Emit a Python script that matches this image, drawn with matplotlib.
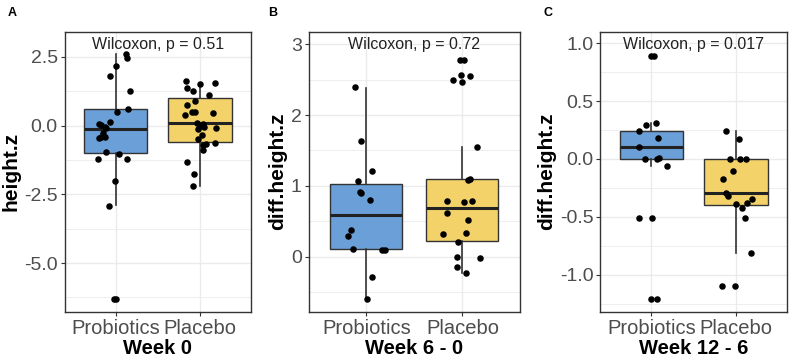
import numpy as np
import matplotlib
matplotlib.use("Agg")
import matplotlib.pyplot as plt
from matplotlib.ticker import MultipleLocator

plt.rcParams['font.family'] = ['Liberation Sans', 'DejaVu Sans']

groups = ['Probiotics', 'Placebo']
colors = ['#6A9FD8', '#F3D26A']

# Panel A: Week 0
a_prob = [2.61, 2.45, 2.17, 1.81, 1.27, 0.61, 0.49, 0.06, 0.03, -0.04, 0.15, -0.10,
          -0.28, -0.42, -0.40, -0.46, -0.95, -1.03, -1.22, -1.22, -2.02, -2.91, -6.32, -6.32]
a_prob_jit = [0.12, 0.14, 0.0, -0.06, 0.17, 0.15, 0.02, -0.20, -0.17, -0.13, -0.07, -0.11,
              -0.15, -0.17, -0.13, -0.19, -0.11, 0.04, -0.21, 0.13, -0.01, -0.08, -0.02, 0.01]
a_plac = [1.64, 1.36, 1.27, 1.52, 1.57, 1.12, 0.90, 0.75, 0.51, 0.51, 0.47, 0.39, 0.10,
          0.05, -0.05, -0.10, 0.0, -0.13, -0.34, -0.50, -0.65, -0.72, -0.88, -0.64,
          -1.31, -1.76, -2.20]
a_plac_jit = [-0.17, -0.16, -0.08, 0.0, 0.18, 0.11, -0.06, -0.16, -0.09, -0.06, 0.15, -0.18,
              -0.04, 0.03, 0.05, 0.19, 0.0, -0.02, 0.02, -0.03, 0.07, 0.03, 0.04, 0.18,
              -0.15, -0.07, -0.08]
# box stats: whisker low, q1, median, q3, whisker high
a_box = [[-2.89, -1.00, -0.12, 0.61, 2.61], [-2.20, -0.58, 0.11, 1.00, 1.54]]

# Panel B: Week 6 - 0
b_prob = [2.40, 1.64, 1.21, 1.07, 0.91, 0.90, 0.80, 0.38, 0.29, 0.11, 0.09, 0.09, -0.29, -0.60]
b_prob_jit = [-0.12, -0.06, 0.06, -0.09, -0.07, -0.06, 0.04, -0.16, -0.19, -0.14, 0.16, 0.19,
              0.06, 0.01]
b_plac = [2.78, 2.78, 2.49, 2.57, 2.56, 2.47, 1.55, 1.08, 1.10, 0.79, 0.77, 0.78, 0.61,
          0.51, 0.32, 0.33, 0.20, 0.0, -0.02, -0.15, -0.23]
b_plac_jit = [-0.02, 0.02, -0.10, -0.01, 0.08, 0.0, 0.15, 0.06, 0.08, -0.16, 0.02, 0.10,
              -0.16, 0.06, -0.20, 0.04, -0.05, -0.06, 0.18, -0.06, 0.04]
b_box = [[-0.60, 0.10, 0.59, 1.03, 2.39], [-0.23, 0.22, 0.68, 1.10, 1.55]]

# Panel C: Week 12 - 6
c_prob = [0.886, 0.886, 0.29, 0.31, 0.245, 0.18, 0.10, 0.0, 0.0, 0.01, -0.06,
          -0.51, -0.51, -1.21, -1.21]
c_prob_jit = [0.0, 0.03, -0.06, 0.06, -0.15, 0.08, -0.15, -0.08, 0.07, 0.09, 0.19,
              -0.15, 0.01, 0.0, 0.07]
c_plac = [0.24, 0.17, 0.0, 0.0, 0.0, -0.10, -0.17, -0.29, -0.32, -0.39, -0.42, -0.38,
          -0.35, -0.51, -0.81, -1.10, -1.10]
c_plac_jit = [-0.12, 0.04, -0.07, 0.05, 0.12, -0.04, -0.15, -0.12, -0.10, 0.0, 0.07, 0.13,
              0.19, 0.11, 0.18, -0.17, -0.01]
c_box = [[-0.06, 0.0, 0.10, 0.245, 0.31], [-0.81, -0.40, -0.29, 0.0, 0.24]]

panels = [
    dict(tag='A', prob=a_prob, pj=a_prob_jit, plac=a_plac, qj=a_plac_jit, box=a_box,
         ylabel='height.z', xlabel='Week 0', p='Wilcoxon, p = 0.51',
         ylim=(-6.77, 3.42), major=2.5, minor=1.25, fmt='{:.1f}'),
    dict(tag='B', prob=b_prob, pj=b_prob_jit, plac=b_plac, qj=b_plac_jit, box=b_box,
         ylabel='diff.height.z', xlabel='Week 6 - 0', p='Wilcoxon, p = 0.72',
         ylim=(-0.78, 3.18), major=1, minor=0.5, fmt='{:.0f}'),
    dict(tag='C', prob=c_prob, pj=c_prob_jit, plac=c_plac, qj=c_plac_jit, box=c_box,
         ylabel='diff.height.z', xlabel='Week 12 - 6', p='Wilcoxon, p = 0.017',
         ylim=(-1.32, 1.10), major=0.5, minor=0.25, fmt='{:.1f}'),
]

fig = plt.figure(figsize=(8.0, 3.61), dpi=100)
rects = [(0.081, 0.1366, 0.2325, 0.7756),
         (0.386, 0.1366, 0.264, 0.7756),
         (0.7506, 0.1366, 0.233, 0.7756)]
tag_x = [0.009, 0.335, 0.679]

for pan, rect, tx in zip(panels, rects, tag_x):
    ax = fig.add_axes(rect)
    stats = []
    for name, b in zip(groups, pan['box']):
        stats.append(dict(label=name, whislo=b[0], q1=b[1], med=b[2], q3=b[3], whishi=b[4]))
    bp = ax.bxp(stats, positions=[1, 2], widths=0.75, patch_artist=True,
                showfliers=False, showcaps=False,
                boxprops=dict(edgecolor='#333333', linewidth=1.0),
                whiskerprops=dict(color='#333333', linewidth=1.2),
                medianprops=dict(color='#222222', linewidth=2.2))
    for patch, c in zip(bp['boxes'], colors):
        patch.set_facecolor(c)
    for pos, vals, jit in [(1, pan['prob'], pan['pj']), (2, pan['plac'], pan['qj'])]:
        ax.scatter(pos + np.array(jit), vals, s=22, color='black', zorder=5, linewidths=0)

    ax.set_xlim(0.4, 2.6)
    ax.set_ylim(*pan['ylim'])
    ax.yaxis.set_major_locator(MultipleLocator(pan['major']))
    ax.yaxis.set_minor_locator(MultipleLocator(pan['minor']))
    ticks = [t for t in ax.get_yticks() if pan['ylim'][0] <= t <= pan['ylim'][1]]
    ax.set_yticks(ticks)
    ax.set_yticklabels([pan['fmt'].format(t).replace('-0.0', '0.0') for t in ticks])
    ax.set_xticks([1, 2])
    ax.set_xticklabels(groups)
    ax.set_axisbelow(True)
    ax.grid(True, which='major', color='#EBEBEB', linewidth=1.0)
    ax.grid(True, which='minor', axis='y', color='#EBEBEB', linewidth=0.6)
    ax.tick_params(axis='y', which='minor', length=0)
    ax.tick_params(axis='both', which='major', length=3, color='#333333',
                   labelcolor='#4D4D4D', pad=2)
    ax.tick_params(axis='x', labelsize=14.5)
    ax.tick_params(axis='y', labelsize=14)
    for s in ax.spines.values():
        s.set_color('#333333')
        s.set_linewidth(1.0)
    ax.set_ylabel(pan['ylabel'], fontsize=15, fontweight='bold', labelpad=3)
    ax.set_xlabel(pan['xlabel'], fontsize=14.5, fontweight='bold', labelpad=1)
    ax.text(1.5, 0.955, pan['p'], transform=ax.get_xaxis_transform(), ha='center',
            va='center', fontsize=11.5, color='#222222')
    fig.text(tx, 0.964, pan['tag'], fontsize=9, fontweight='bold', va='center')

fig.savefig('out.png', dpi=100)
